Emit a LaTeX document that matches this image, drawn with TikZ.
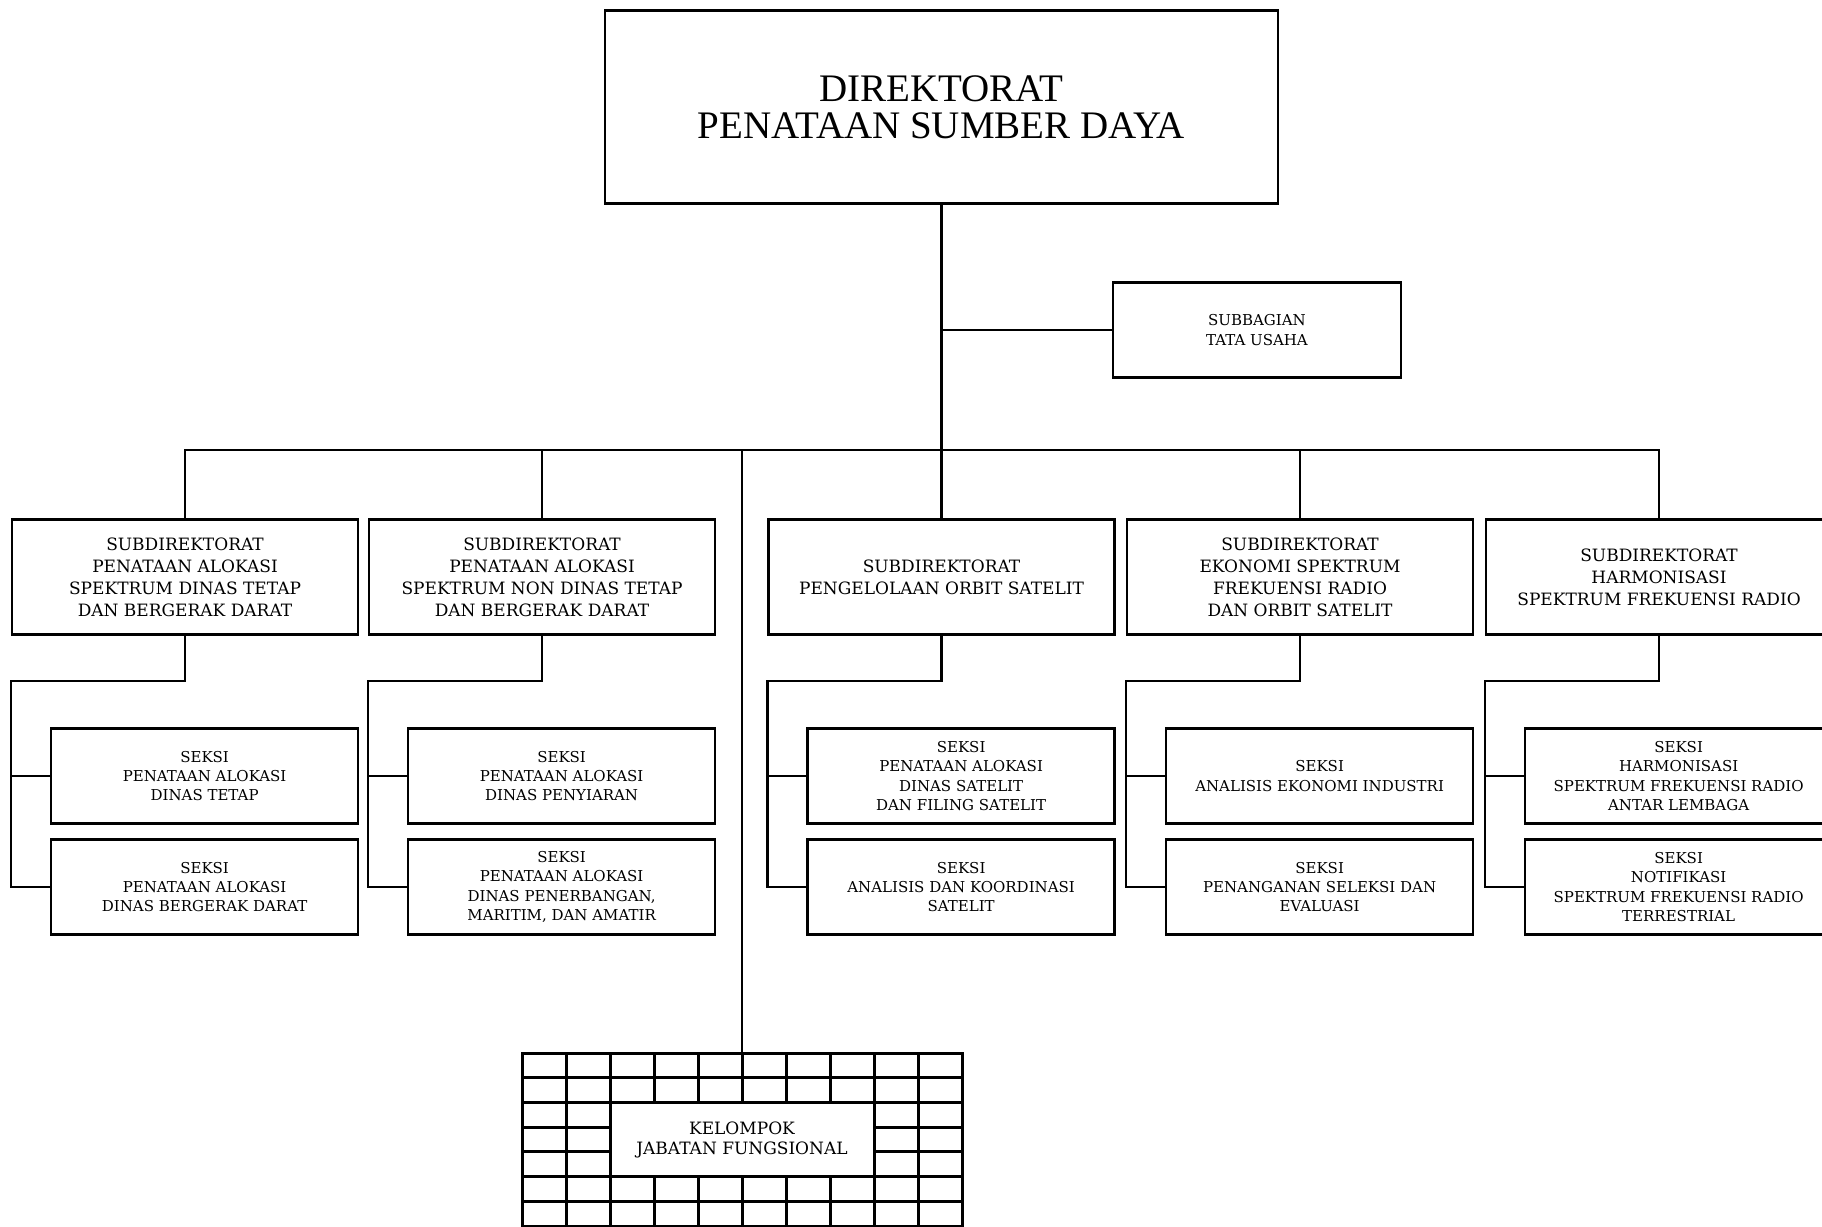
\documentclass[tikz,border=0pt]{standalone}
\usepackage{fontspec}
\setmainfont{DejaVu Serif}
\newfontfamily\titlefont{Liberation Serif}
\usetikzlibrary{positioning}

\begin{document}
\begin{tikzpicture}[x=1pt, y=-1pt, line width=2.4pt,
    box/.style={draw, rectangle, align=center, inner sep=2pt},
    dirbox/.style={box, minimum width=673pt, minimum height=193pt, font=\titlefont\fontsize{39}{37}\selectfont},
    tubox/.style={box, minimum width=288pt, minimum height=95pt, font=\fontsize{15}{20}\selectfont},
    subdir/.style={box, minimum width=346pt, minimum height=115pt, font=\fontsize{17}{22}\selectfont},
    seksi/.style={box, minimum width=307pt, minimum height=95pt, font=\fontsize{15}{19.4}\selectfont},
    jfbox/.style={box, fill=white, line width=3pt, minimum width=264pt, minimum height=74pt, font=\fontsize{17}{20}\selectfont},
    gridline/.style={line width=3pt}]
                            \clip (0,0) rectangle (1822,1226);
                            \node [dirbox] (dir) at (941.5, 107) {DIREKTORAT\\PENATAAN SUMBER DAYA};
                            \node [tubox] (tu) at (1257, 330) {SUBBAGIAN\\TATA USAHA};
                            \coordinate (bus) at (941.5, 449.7);

                            \node [subdir] (sd1) at (185, 577) {SUBDIREKTORAT\\PENATAAN ALOKASI\\SPEKTRUM DINAS TETAP\\DAN BERGERAK DARAT};
                            \node [subdir] (sd2) at (542, 577) {SUBDIREKTORAT\\PENATAAN ALOKASI\\SPEKTRUM NON DINAS TETAP\\DAN BERGERAK DARAT};
                            \node [subdir] (sd3) at (941.5, 577) {SUBDIREKTORAT\\PENGELOLAAN ORBIT SATELIT};
                            \node [subdir] (sd4) at (1300, 577) {SUBDIREKTORAT\\EKONOMI SPEKTRUM\\FREKUENSI RADIO\\DAN ORBIT SATELIT};
                            \node [subdir] (sd5) at (1659, 577) {SUBDIREKTORAT\\HARMONISASI\\SPEKTRUM FREKUENSI RADIO};

                            \node [seksi] (seka1) at (204.6, 776) {SEKSI\\PENATAAN ALOKASI\\DINAS TETAP};
                            \node [seksi] (sekb1) at (204.6, 887) {SEKSI\\PENATAAN ALOKASI\\DINAS BERGERAK DARAT};
                            \node [seksi] (seka2) at (561.6, 776) {SEKSI\\PENATAAN ALOKASI\\DINAS PENYIARAN};
                            \node [seksi] (sekb2) at (561.6, 887) {SEKSI\\PENATAAN ALOKASI\\DINAS PENERBANGAN,\\MARITIM, DAN AMATIR};
                            \node [seksi] (seka3) at (961.1, 776) {SEKSI\\PENATAAN ALOKASI\\DINAS SATELIT\\DAN FILING SATELIT};
                            \node [seksi] (sekb3) at (961.1, 887) {SEKSI\\ANALISIS DAN KOORDINASI\\SATELIT};
                            \node [seksi] (seka4) at (1319.6, 776) {SEKSI\\ANALISIS EKONOMI INDUSTRI};
                            \node [seksi] (sekb4) at (1319.6, 887) {SEKSI\\PENANGANAN SELEKSI DAN\\EVALUASI};
                            \node [seksi] (seka5) at (1678.6, 776) {SEKSI\\HARMONISASI\\SPEKTRUM FREKUENSI RADIO\\ANTAR LEMBAGA};
                            \node [seksi] (sekb5) at (1678.6, 887) {SEKSI\\NOTIFIKASI\\SPEKTRUM FREKUENSI RADIO\\TERRESTRIAL};

                            % kelompok jabatan fungsional
                            \node [draw, line width=3pt, minimum width=440pt, minimum height=173pt] (jfgrid) at (742, 1139.5) {};
                            \foreach \i in {1,...,9}
                                \draw [gridline] (522+44*\i, 1053) -- (522+44*\i, 1226);
                            \foreach \j in {1,...,6}
                                \draw [gridline] (522, 1053+24.7*\j) -- (962, 1053+24.7*\j);
                            \node [jfbox] (jf) at (742, 1139.5) {KELOMPOK\\JABATAN FUNGSIONAL};

                            \draw (dir.south) -- (bus);
                            \draw (tu.west) -- (tu.west -| dir.south);
                            \draw (sd1.north) |- (bus) -| (sd5.north);
                            \draw (bus) -- (sd3.north);
                            \draw (sd2.north) -- (sd2.north |- bus);
                            \draw (sd4.north) -- (sd4.north |- bus);
                            \draw (jfgrid.north) -- (jfgrid.north |- bus);

                            \foreach \k in {1,...,5} {
                                \draw (sd\k.south) -- ++(0, 45.5) -| (sd\k.west |- sekb\k.west) -- (sekb\k.west);
                                \draw (sd\k.west |- seka\k.west) -- (seka\k.west);
                            }
                        \end{tikzpicture}
\end{document}
